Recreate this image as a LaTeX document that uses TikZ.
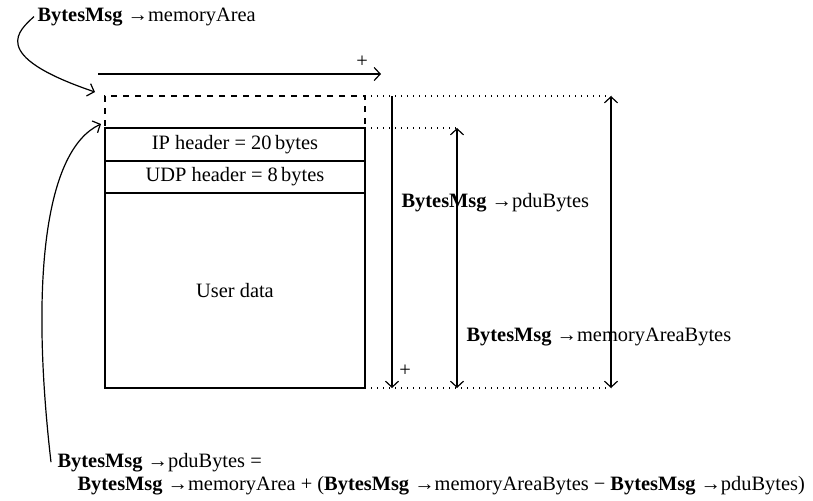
\documentclass[tikz,border=0pt]{standalone}
\usepackage{fontspec}
\setmainfont{Liberation Serif}
\usetikzlibrary{positioning}
\usetikzlibrary{arrows.meta}

\begin{document}
\begin{tikzpicture}[x=0.5pt, y=-0.5pt, font=\fontsize{10.2}{12}\selectfont,
                    >={Straight Barb[length=3pt,width=6.5pt]}, line width=0.6pt,
                    rownode/.style={rectangle, draw, minimum width=130pt, inner sep=0pt, outer sep=0pt},
                    textnode/.style={inner sep=0pt, anchor=base west},
                    dotline/.style={dash pattern=on 0.6pt off 2.4pt}
                   ]
\useasboundingbox (0,0) rectangle (813,500);
%Nodes
\node[rownode, dashed, minimum height=16pt] (area) at (235,112) {};
\node[rownode, minimum height=16.5pt] (ip)   [below=0pt of area] {IP header = 20\,bytes};
\node[rownode, minimum height=16pt]   (udp)  [below=0pt of ip]   {UDP header = 8\,bytes};
\node[rownode, minimum height=97.5pt] (user) [below=0pt of udp]  {User data};

\node[textnode] (mem) at (37,21)  {\textbf{BytesMsg} →memoryArea};
\node[textnode] (pdu) at (401,207) {\textbf{BytesMsg} →pduBytes};
\node[textnode] (mab) at (466,341) {\textbf{BytesMsg} →memoryAreaBytes};
\node[textnode] (eq1) at (57,467) {\textbf{BytesMsg} →pduBytes =};
\node[textnode] (eq2) at (77,490) {\textbf{BytesMsg} →memoryArea + (\textbf{BytesMsg} →memoryAreaBytes − \textbf{BytesMsg} →pduBytes)};
\node (plusa) at (362,62)  {+};
\node (plusb) at (405,371) {+};

\coordinate (ha) at (98,74);
\coordinate (hb) at (381,74);
\coordinate (memtip) at (95,92);
\coordinate (iptip) at (101,124);
\coordinate (atop) at (392,96);
\coordinate (abot) at (392,388);
\coordinate (btop) at (457,128);
\coordinate (bbot) at (457,388);
\coordinate (ctop) at (611,96);
\coordinate (cbot) at (611,388);
% %Lines
\draw[dotline] (area.north east) -- (ctop);
\draw[dotline] (ip.north east) -- (btop);
\draw[dotline] (user.south east) -- (cbot);

\draw[->] (ha) -- (hb);
\draw[->] (atop) -- (abot);
\draw[<->] (btop) -- (bbot);
\draw[<->] (ctop) -- (cbot);

\draw[->] ([xshift=-1.5pt]mem.west) .. controls (20,30) and (-14,55) .. (memtip);
\draw[->] ([xshift=-3pt]eq1.west) .. controls (30,280) and (45,150) .. (iptip);
\end{tikzpicture}
\end{document}
